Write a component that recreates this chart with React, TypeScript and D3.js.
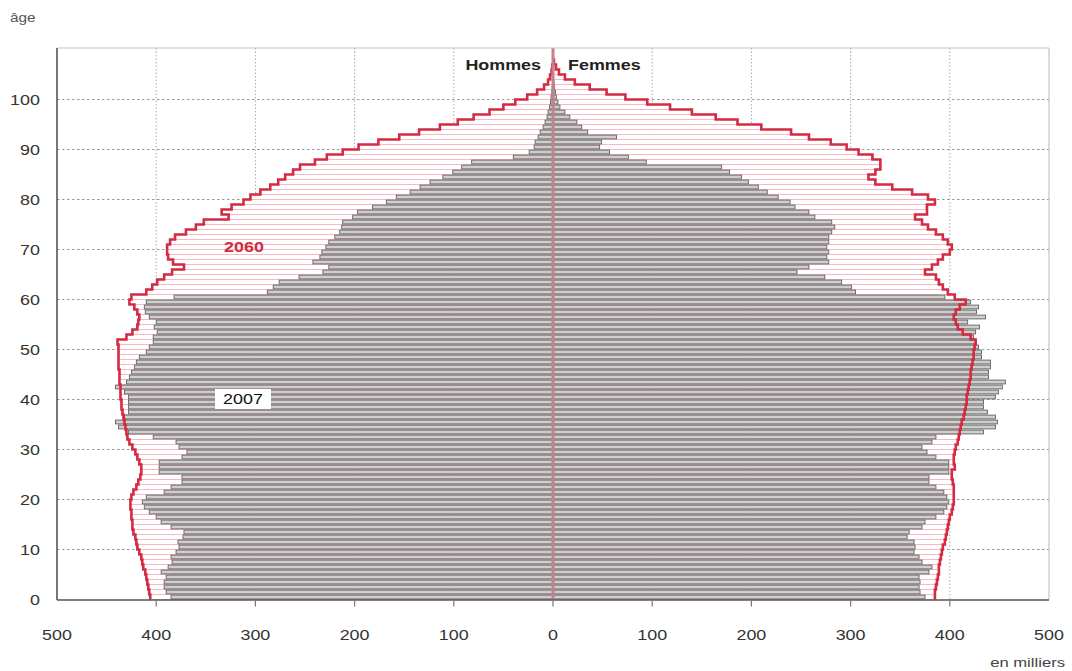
import * as d3 from "d3";

// population par âge (en milliers), index = âge
const hommes2007 = [
  385, 390, 392, 392, 390, 395, 388, 384, 385, 380, 377, 378, 373, 372, 385, 395, 400, 407, 412, 414,
  410, 392, 385, 374, 374, 397, 397, 397, 374, 369, 377, 380, 403, 428, 438, 441, 432, 428, 428, 428,
  428, 432, 441, 430, 427, 425, 422, 420, 417, 410, 407, 403, 403, 399, 402, 400, 407, 411, 412, 410,
  382, 288, 282, 276, 256, 232, 226, 242, 235, 233, 229, 226, 220, 215, 213, 212, 202, 197, 182, 168,
  158, 144, 134, 124, 111, 101, 92, 82, 40, 24, 19, 18, 15, 13, 10, 8, 6, 5, 3.5, 2.5,
  2, 1.2, 0.8, 0.5, 0.3,
];
const femmes2007 = [
  375, 370, 369, 370, 369, 379, 382, 372, 369, 364, 365, 364, 357, 359, 372, 375, 386, 394, 397, 399,
  397, 394, 386, 379, 379, 399, 399, 399, 386, 377, 372, 382, 386, 434, 446, 448, 446, 438, 434, 434,
  446, 449, 453, 456, 439, 439, 441, 441, 432, 432, 429, 427, 424, 426, 430, 418, 436, 427, 429, 421,
  395, 305, 301, 291, 274, 246, 258, 278, 276, 278, 276, 278, 278, 281, 284, 281, 264, 258, 244, 239,
  227, 216, 207, 197, 190, 178, 170, 94, 76, 57, 47, 49, 64, 35, 29, 24, 17, 12, 7, 5,
  3.4, 2.5, 1.6, 1, 0.6, 0.3,
];
const hommes2060 = [
  406, 407, 408, 409, 410, 411, 413, 414, 415, 417, 419, 420, 421, 423, 424, 424, 425, 425, 426, 426,
  425, 423, 420, 418, 416, 415, 415, 417, 419, 421, 424, 427, 429, 430, 431, 432, 433, 434, 435, 435,
  436, 436, 436, 437, 437, 437, 438, 438, 438, 438, 438, 439, 430, 424, 419, 418, 417, 419, 422, 427,
  425, 410, 404, 399, 392, 384, 372, 383, 388, 389, 389, 386, 381, 370, 360, 352, 327, 334, 324, 312,
  305, 295, 285, 277, 270, 262, 255, 240, 228, 212, 196, 176, 155, 135, 114, 96, 80, 64, 50, 38,
  26, 16, 9, 5, 3, 1.5, 0.7,
];
const femmes2060 = [
  385, 385, 386, 387, 388, 389, 389, 390, 391, 392, 393, 395, 396, 397, 398, 399, 400, 402, 403, 404,
  404, 404, 404, 403, 402, 402, 405, 404, 404, 405, 406, 408, 409, 410, 411, 412, 414, 415, 416, 417,
  417, 418, 419, 420, 421, 421, 422, 423, 424, 424, 425, 426, 421, 413, 408, 406, 404, 406, 410, 416,
  405, 398, 393, 389, 386, 375, 382, 388, 393, 400, 402, 398, 393, 386, 378, 372, 365, 377, 377, 385,
  378, 362, 342, 325, 318, 325, 330, 330, 322, 308, 296, 280, 258, 240, 210, 186, 164, 140, 118, 95,
  73, 54, 37, 22, 12, 6, 3, 1,
];

const xTicks = [-500, -400, -300, -200, -100, 0, 100, 200, 300, 400, 500];
const yTicks = [0, 10, 20, 30, 40, 50, 60, 70, 80, 90, 100];

const FONT = "'Liberation Sans', Arial, sans-serif";
const RED = "#d42a42";
const SX = 1.28; // the picture is stretched sideways

const T = (props: {
  x: number;
  y: number;
  children: string;
  anchor?: string;
  size?: number;
  weight?: number | string;
  fill?: string;
}) => (
  <text
    transform={`translate(${props.x},${props.y}) scale(${SX},1)`}
    textAnchor={props.anchor || "middle"}
    fontSize={props.size || 14}
    fontWeight={props.weight || 400}
    fill={props.fill || "#333"}
    fontFamily={FONT}
  >
    {props.children}
  </text>
);

export default function App() {
  const width = 1072;
  const height = 671;
  const x = d3.scaleLinear().domain([-500, 500]).range([57, 1049]);
  const y = d3.scaleLinear().domain([0, 110.3]).range([599.5, 48]);
  const line = d3.line<[number, number]>();

  // outline of the 2060 pyramid, one step per age
  const contour = (values: number[], sign: number) => {
    const pts: [number, number][] = [[x(sign * values[0]), y(0)]];
    values.forEach((v, a) => {
      pts.push([x(sign * v), y(a)]);
      pts.push([x(sign * v), y(a + 1)]);
    });
    pts.push([x(0), y(values.length)]);
    return line(pts) || "";
  };

  const bars = (values: number[], sign: number, kind: "2007" | "2060") =>
    values.map((v, a) => {
      const x0 = Math.min(x(0), x(sign * v));
      const w = Math.abs(x(sign * v) - x(0));
      if (kind === "2060") {
        return (
          <rect
            key={`p${sign}${a}`}
            x={x0}
            y={y(a + 1)}
            width={w}
            height={y(a) - y(a + 1)}
            fill="#fff"
            stroke="#f2aab5"
            strokeWidth={0.7}
          />
        );
      }
      return (
        <rect
          key={`g${sign}${a}`}
          x={x0}
          y={y(a + 1) + 0.6}
          width={w}
          height={y(a) - y(a + 1) - 1.2}
          fill="#cfcfcf"
          stroke="#626262"
          strokeWidth={0.9}
        />
      );
    });

  return (
    <svg
      width={width}
      height={height}
      style={{ position: "absolute", left: 0, top: 0, background: "#fff" }}
    >
      <rect x={0} y={0} width={width} height={height} fill="#fff" />

      {/* grid */}
      {yTicks
        .filter((t) => t > 0)
        .map((t) => (
          <line
            key={`hy${t}`}
            x1={x(-500)}
            x2={x(500)}
            y1={y(t)}
            y2={y(t)}
            stroke="#9a9a9a"
            strokeDasharray="2.5,2.5"
          />
        ))}
      {xTicks
        .filter((t) => Math.abs(t) !== 500 && t !== 0)
        .map((t) => (
          <line
            key={`vx${t}`}
            x1={x(t)}
            x2={x(t)}
            y1={y(110.3)}
            y2={y(0)}
            stroke="#a8a8a8"
            strokeDasharray="1.5,2"
          />
        ))}

      {/* 2060 */}
      {bars(hommes2060, -1, "2060")}
      {bars(femmes2060, 1, "2060")}

      {/* 2007 */}
      {bars(hommes2007, -1, "2007")}
      {bars(femmes2007, 1, "2007")}

      <path d={contour(hommes2060, -1)} fill="none" stroke={RED} strokeWidth={2.6} />
      <path d={contour(femmes2060, 1)} fill="none" stroke={RED} strokeWidth={2.6} />

      <line x1={x(0)} x2={x(0)} y1={y(0)} y2={y(110.3)} stroke="#c0828f" strokeWidth={3} />

      {/* frame */}
      <line x1={x(-500)} x2={x(500)} y1={y(110.3)} y2={y(110.3)} stroke="#c4c4c4" strokeWidth={1.2} />
      <line x1={x(500)} x2={x(500)} y1={y(110.3)} y2={y(0)} stroke="#c4c4c4" strokeWidth={1.2} />
      <line x1={x(-500)} x2={x(-500)} y1={y(110.3)} y2={y(0) + 0.5} stroke="#555" strokeWidth={1.6} />
      <line x1={x(-500)} x2={x(500)} y1={y(0) + 0.5} y2={y(0) + 0.5} stroke="#555" strokeWidth={1.6} />
      {xTicks
        .filter((t) => Math.abs(t) !== 500)
        .map((t) => (
          <line key={`tk${t}`} x1={x(t)} x2={x(t)} y1={y(0) + 1} y2={y(0) + 7} stroke="#777" strokeWidth={1.2} />
        ))}

      {/* axis labels */}
      {yTicks.map((t) => (
        <T key={`ly${t}`} x={40} y={y(t) + 5} anchor="end">
          {String(t)}
        </T>
      ))}
      {xTicks.map((t) => (
        <T key={`lx${t}`} x={x(t)} y={640}>
          {String(Math.abs(t))}
        </T>
      ))}
      <T x={10} y={22} anchor="start" size={12} fill="#555">
        âge
      </T>
      <T x={1065} y={667} anchor="end" size={13} fill="#444">
        en milliers
      </T>

      <T x={541} y={70} anchor="end" weight={700} fill="#222">
        Hommes
      </T>
      <T x={568} y={70} anchor="start" weight={700} fill="#222">
        Femmes
      </T>

      <T x={244} y={252} weight={700} fill={RED}>
        2060
      </T>
      <rect x={215} y={389} width={56} height={20} fill="#fff" />
      <T x={243} y={404} fill="#111">
        2007
      </T>
    </svg>
  );
}
